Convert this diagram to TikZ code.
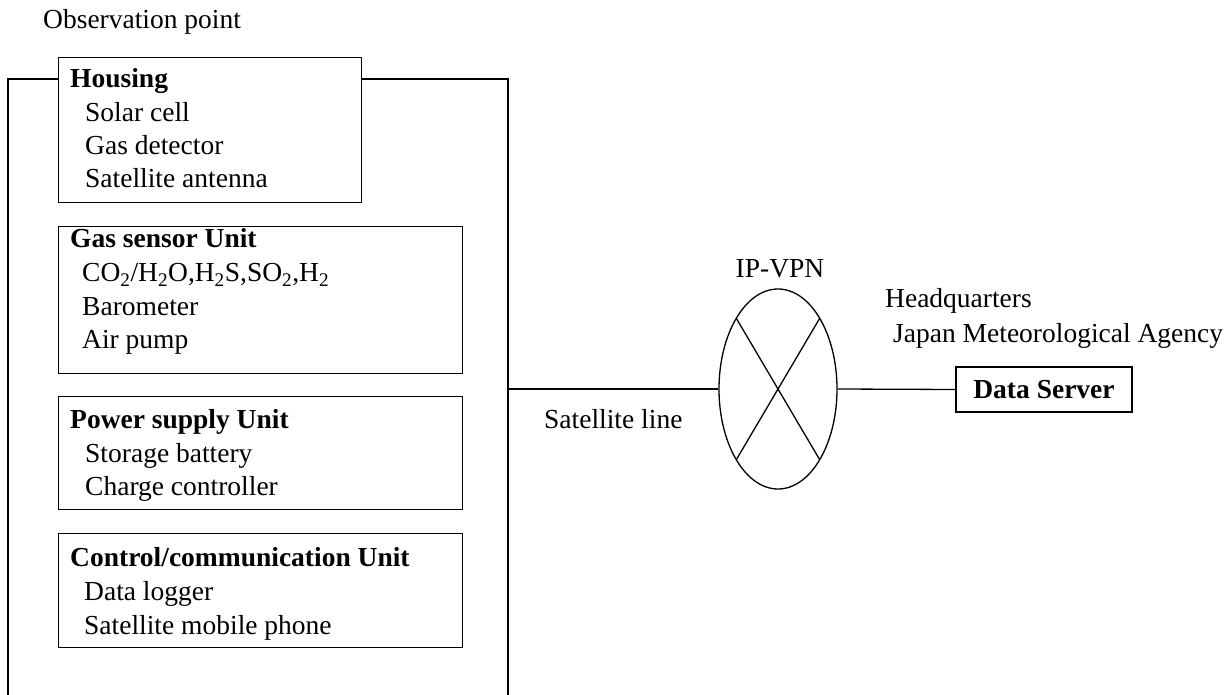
\documentclass[tikz,border=0pt]{standalone}
\usepackage{fontspec}
\setmainfont{Liberation Serif}
\usetikzlibrary{shapes.geometric}
\begin{document}
\begin{tikzpicture}[x=1pt,y=-1pt,
  box/.style={draw, line width=1.4pt, inner sep=0pt, anchor=north west},
  txt/.style={anchor=base west, inner sep=0pt, font=\fontsize{27.5}{33}\selectfont},
  ttl/.style={anchor=base west, inner sep=0pt, font=\fontsize{27.5}{33}\selectfont\bfseries},
  wire/.style={line width=1.3pt}]
\useasboundingbox (0,0) rectangle (1232,695);

% observation point frame
\node[txt] (obs) at (43,29) {Observation point};
\node[box, minimum width=303pt, minimum height=145pt] (housing) at (58,57) {};
\node[box, minimum width=404pt, minimum height=147pt] (gas) at (58,226) {};
\node[box, minimum width=404pt, minimum height=113pt] (power) at (58,396) {};
\node[box, minimum width=404pt, minimum height=114pt] (ctrl) at (58,533) {};

\coordinate (ftl) at (8,79);
\coordinate (ftr) at (508,79);
\coordinate (fbl) at (8,696);
\coordinate (fbr) at (508,696);
\coordinate (sat) at (508,389);
\draw[wire, line width=1.5pt] (ftl -| housing.west) -- (ftl) -- (fbl);
\draw[wire, line width=1.5pt] (ftr -| housing.east) -- (ftr) -- (fbr);

% housing
\node[ttl] (h0) at (70,88) {Housing};
\node[txt] (h1) at (85,122) {Solar cell};
\node[txt] (h2) at (85,155) {Gas detector};
\node[txt] (h3) at (85,188) {Satellite antenna};

% gas sensor
\node[ttl] (g0) at (70,248) {Gas sensor Unit};
\node[txt] (g1) at (82,282) {CO\textsubscript{2}/H\textsubscript{2}O,H\textsubscript{2}S,SO\textsubscript{2},H\textsubscript{2}};
\node[txt] (g2) at (82,315) {Barometer};
\node[txt] (g3) at (82,348) {Air pump};

% power supply
\node[ttl] (p0) at (70,428) {Power supply Unit};
\node[txt] (p1) at (85,462) {Storage battery};
\node[txt] (p2) at (85,495) {Charge controller};

% control
\node[ttl] (c0) at (70,566) {Control/communication Unit};
\node[txt] (c1) at (84,600) {Data logger};
\node[txt] (c2) at (84,634) {Satellite mobile phone};

% network
\node[draw, ellipse, line width=1.3pt, minimum width=118pt, minimum height=200pt, inner sep=0pt] (vpn) at (778,389) {};
\draw[wire] (vpn.center) ++(-41.7,-70.7) -- ++(83.4,141.4);
\draw[wire] (vpn.center) ++(41.7,-70.7) -- ++(-83.4,141.4);
\node[txt, anchor=base] (vpnl) at (780,277) {IP-VPN};
\node[txt] (satl) at (544,428) {Satellite line};

\node[draw, line width=1.4pt, minimum width=176pt, minimum height=45pt, inner sep=0pt,
      font=\fontsize{27.5}{33}\selectfont\bfseries] (server) at (1044,389.5) {Data Server};
\node[txt] (hq) at (885,308) {Headquarters};
\node[txt] (jma) at (893,342) {Japan Meteorological Agency};

\draw[wire] (sat) -- (vpn.west);
\draw[wire] (vpn.east) -- (server.west);
\end{tikzpicture}
\end{document}
